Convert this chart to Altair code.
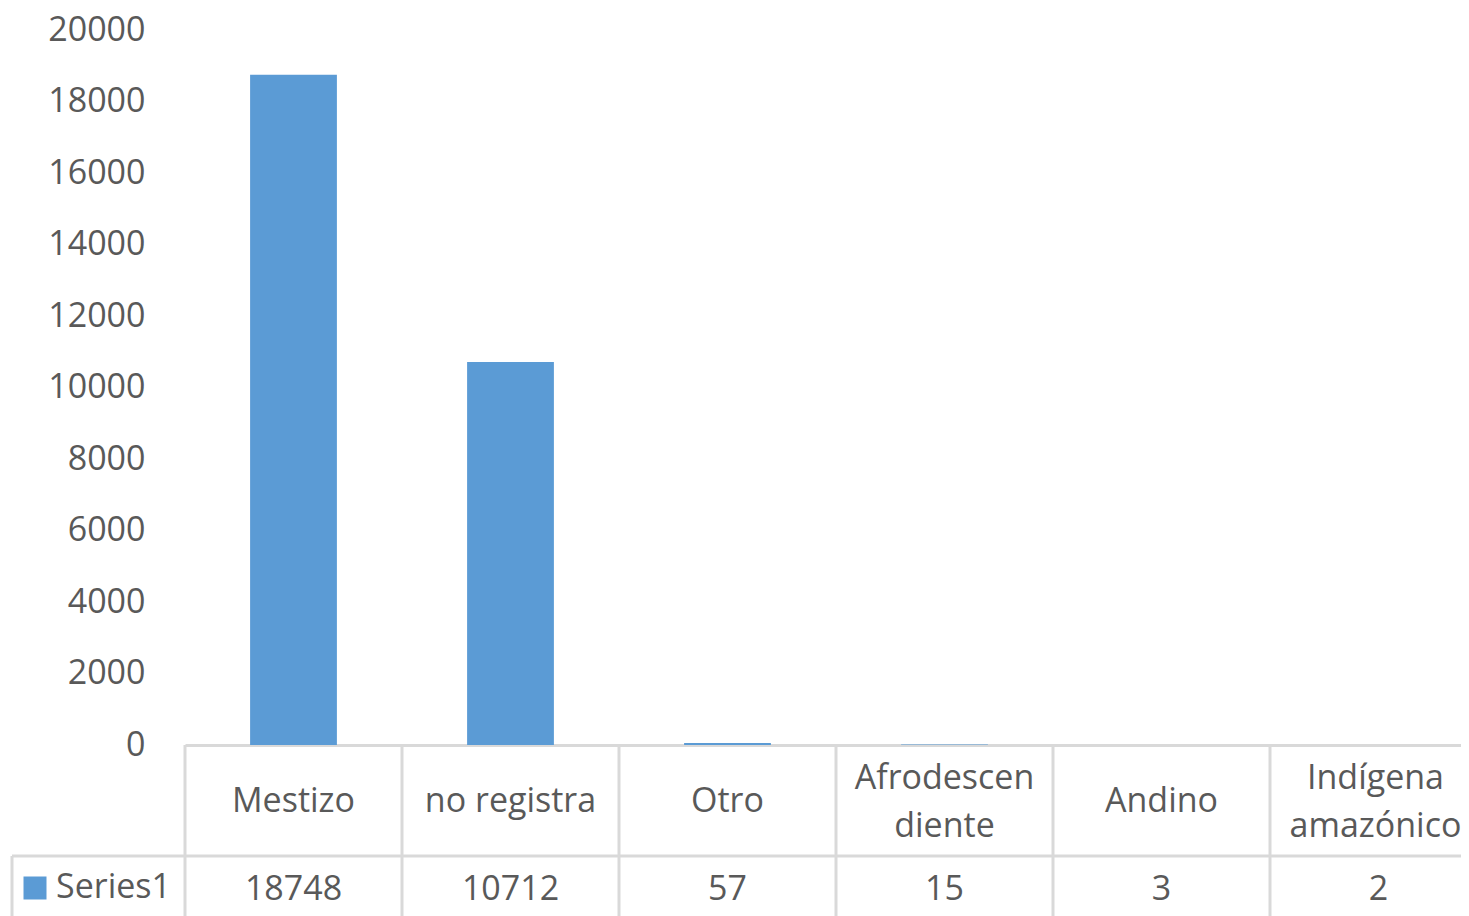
import altair as alt
import pandas as pd

categories = ["Mestizo", "no registra", "Otro", "Afrodescendiente", "Andino", "Indígena amazónico"]
label_lines = [["Mestizo"], ["no registra"], ["Otro"], ["Afrodescen", "diente"], ["Andino"], ["Indígena", "amazónico"]]
values = [18748, 10712, 57, 15, 3, 2]
series_name = "Series1"
y_ticks = list(range(0, 20001, 2000))

df = pd.DataFrame({"categoria": categories, "valor": values, "serie": [series_name] * len(categories)})

BAND = 217
PLOT_W = 1276
PLOT_H = 715
GRID = "#D9D9D9"
TXT = "#595959"
BAR = "#5B9BD5"
FONT = "Open Sans"
FS = 34
LINE_H = 48

# multi-line label expression built from label_lines
expr = "datum.label"
multi = []
for cat, lines in zip(categories, label_lines):
    if len(lines) > 1:
        arr = "[" + ", ".join("'" + l + "'" for l in lines) + "]"
        expr = f"datum.label == '{cat}' ? {arr} : " + expr
        multi.append(cat)
multi_test = " || ".join(f"datum.value == '{c}'" for c in multi)
last_test = f"datum.value == '{categories[-1]}'"

x_scale = alt.Scale(domain=categories, range=[0, BAND * len(categories)], paddingInner=0, paddingOuter=0)

bars = alt.Chart(df).mark_bar(width={"band": 0.4}).encode(
    x=alt.X("categoria:N", scale=x_scale, sort=categories, title=None,
            axis=alt.Axis(domainColor=GRID, domainWidth=3, ticks=False, labelAngle=0,
                          labelFont=FONT, labelFontSize=FS, labelColor=TXT,
                          labelPadding={"condition": {"test": multi_test, "value": 56 - LINE_H // 2 + 1},
                                        "value": 56},
                          labelOffset={"condition": {"test": last_test, "value": -3}, "value": 0},
                          labelBaseline="middle", labelLineHeight=LINE_H, labelLimit=400,
                          labelExpr=expr, labelOverlap=False)),
    y=alt.Y("valor:Q", scale=alt.Scale(domain=[0, 20000], nice=False), title=None,
            axis=alt.Axis(values=y_ticks, grid=False, domain=False, ticks=False, format="d",
                          labelFont=FONT, labelFontSize=FS, labelColor=TXT, labelPadding=40)),
    color=alt.Color("serie:N", scale=alt.Scale(range=[BAR]),
                    legend=alt.Legend(orient="none", legendX=-167, legendY=841, title=None,
                                      symbolType="square", symbolSize=529, symbolStrokeWidth=0,
                                      symbolOpacity=1, labelFont=FONT, labelFontSize=FS,
                                      labelColor=TXT, labelOffset=4, padding=0)),
)

vlines = alt.Chart(df).mark_rule(color=GRID, strokeWidth=3).encode(
    x=alt.X("categoria:N", sort=categories, bandPosition=0, title=None),
    y=alt.value(PLOT_H),
    y2=alt.value(PLOT_H + 200),
)

hline = alt.Chart(pd.DataFrame({"k": [0]})).mark_rule(color=GRID, strokeWidth=3).encode(
    x=alt.value(-173), x2=alt.value(BAND * len(categories)), y=alt.value(PLOT_H + 111)
)

leftline = alt.Chart(pd.DataFrame({"k": [0]})).mark_rule(color=GRID, strokeWidth=3).encode(
    x=alt.value(-173), y=alt.value(PLOT_H + 111), y2=alt.value(PLOT_H + 200)
)

vals = alt.Chart(df).mark_text(font=FONT, fontSize=FS, color=TXT, baseline="middle").encode(
    x=alt.X("categoria:N", sort=categories, title=None),
    y=alt.value(PLOT_H + 145),
    text=alt.Text("valor:Q", format="d"),
)

chart = alt.layer(bars, vlines, hline, leftline, vals).properties(
    width=PLOT_W, height=PLOT_H,
    padding={"left": 177, "top": 22, "right": 0, "bottom": 171},
    autosize=alt.AutoSizeParams(type="none"),
).configure_view(stroke=None)

chart.save("out.html", embed_options={"renderer": "svg", "actions": False})
